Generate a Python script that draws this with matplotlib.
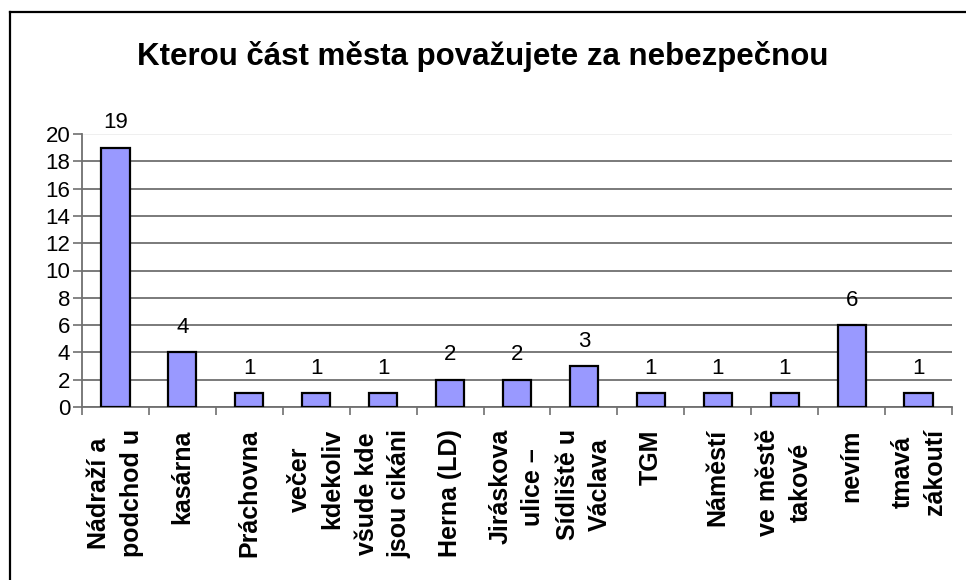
import numpy as np
import matplotlib
matplotlib.use("Agg")
import matplotlib.pyplot as plt
from matplotlib.lines import Line2D

plt.rcParams['font.family'] = ['Liberation Sans', 'DejaVu Sans']

# Data
kategorie = ["Nádraží a\npodchod u", "kasárna", "Práchovna", "večer\nkdekoliv",
             "všude kde\njsou cikáni", "Herna (LD)", "Jiráskova\nulice –",
             "Sídliště u\nVáclava", "TGM", "Náměstí", "ve městě\ntakové",
             "nevím", "tmavá\nzákoutí"]
hodnoty = [19, 4, 1, 1, 1, 2, 2, 3, 1, 1, 1, 6, 1]
y_ticks = list(range(0, 21, 2))

fig = plt.figure(figsize=(9.66, 5.8), dpi=100)
ax = fig.add_axes([82 / 966, 1 - 407 / 580, (952 - 82) / 966, (407 - 134) / 580])

x = np.arange(len(hodnoty))
ax.bar(x, hodnoty, width=0.42, color='#9999FF', edgecolor='black', linewidth=1.6, zorder=3)

# hodnoty nad sloupci
for xi, v in zip(x, hodnoty):
    ax.annotate(str(v), (xi, v), xytext=(0, 14), textcoords='offset points',
                ha='center', va='baseline', fontsize=16)

ax.set_xlim(-0.5, len(hodnoty) - 0.5)
ax.set_ylim(0, 20)
ax.set_yticks(y_ticks)
ax.tick_params(axis='y', labelsize=16, length=6.5, width=1.2, color='#707070', pad=2)

# ticky na hranicich kategorii, popisky uprostred
ax.set_xticks(np.arange(-0.5, len(hodnoty), 1.0))
ax.set_xticklabels([])
ax.set_xticks(x, minor=True)
ax.set_xticklabels(kategorie, minor=True, rotation=90, fontsize=18, fontweight='bold',
                   ha='center', va='top', multialignment='center', linespacing=1.45)
ax.tick_params(axis='x', which='major', length=6, width=1.2, color='#707070')
ax.tick_params(axis='x', which='minor', length=0, pad=16)

ax.yaxis.grid(True, color='#707070', linewidth=1.3, zorder=0)
ax.yaxis.get_gridlines()[-1].set_color('#eeeeee')
ax.set_axisbelow(True)

for s in ['top', 'right']:
    ax.spines[s].set_visible(False)
ax.spines['left'].set_color('#707070')
ax.spines['bottom'].set_color('#707070')
ax.spines['left'].set_linewidth(1.3)
ax.spines['bottom'].set_linewidth(1.3)

fig.text(0.5, 1 - 57 / 580, 'Kterou část města považujete za nebezpečnou',
         ha='center', va='center', fontsize=22.5, fontweight='bold')

# ramecek grafu (oriznuty vpravo a dole)
fig.add_artist(Line2D([10 / 966, 10 / 966], [0, 1 - 12 / 580], color='black', linewidth=1.6))
fig.add_artist(Line2D([10 / 966, 1], [1 - 12 / 580, 1 - 12 / 580], color='black', linewidth=1.6))

fig.savefig('out.png', dpi=100)
